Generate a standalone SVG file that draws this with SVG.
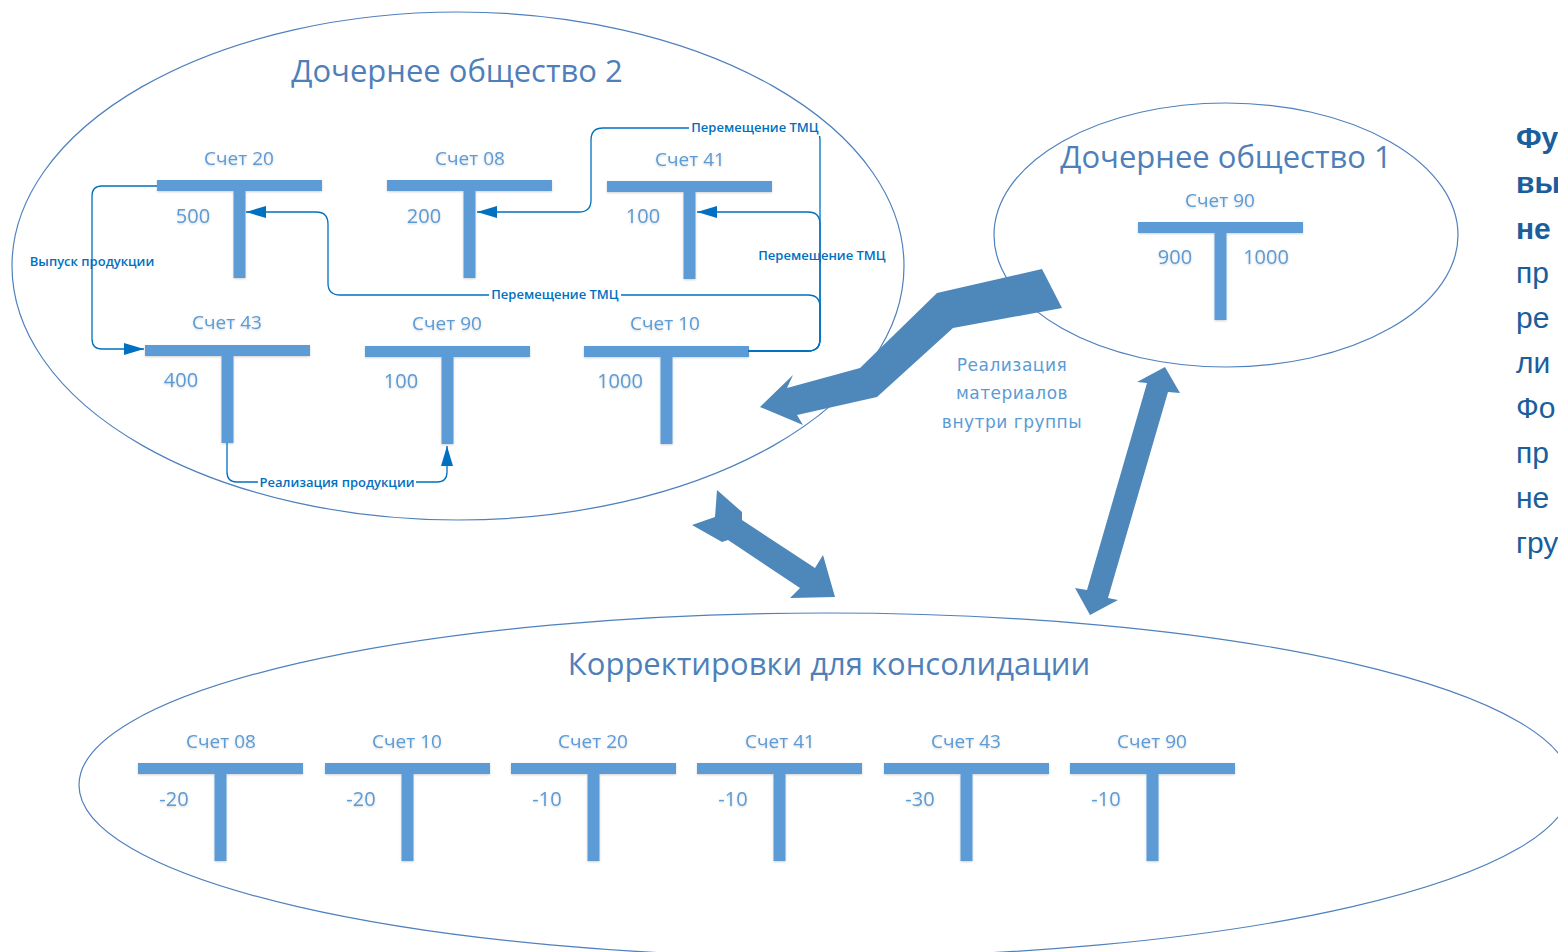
<svg xmlns="http://www.w3.org/2000/svg" xmlns:xlink="http://www.w3.org/1999/xlink" width="1558" height="952" viewBox="0 0 1558 952">
<style>
.ell{fill:none;stroke:#4f81bd;stroke-width:1.2}
.title{font-family:"Open Sans","Noto Sans",sans-serif;font-size:31px;fill:#4f7fb8;text-anchor:middle}
.acc{font-family:"Open Sans","Noto Sans",sans-serif;font-size:19px;fill:#5b9bd5;text-anchor:middle}
.val{font-family:"Open Sans","Noto Sans",sans-serif;font-size:20px;fill:#5b9bd5;text-anchor:middle}
.tfill{fill:#5b9bd5}
.con{fill:none;stroke:#0070c0;stroke-width:1.3}
.cl{font-family:"Open Sans","Noto Sans",sans-serif;font-size:13px;font-weight:600;fill:#0070c0;text-anchor:middle}
.bg{fill:#ffffff}
.big{fill:#4e87ba}
.mid{font-family:"DejaVu Sans","Open Sans",sans-serif;font-size:17px;fill:#5b9bd5;text-anchor:middle;letter-spacing:0.5px}
.side{font-family:"Liberation Sans",Arial,sans-serif;font-size:30px;fill:#1b5e9c}
.sb{font-weight:bold}
</style>
<defs>
<filter id="sh" x="-10%" y="-10%" width="120%" height="130%">
<feDropShadow dx="0" dy="1" stdDeviation="1.2" flood-color="#000" flood-opacity="0.18"/>
</filter>
<path id="T" class="tfill" d="M0,0 H165 V11 H88.5 V98 H76.5 V11 H0 Z"/>
<marker id="ah" viewBox="0 0 20 12" refX="20" refY="6" markerWidth="20" markerHeight="12" markerUnits="userSpaceOnUse" orient="auto">
<path d="M0,0 L20,6 L0,12 Z" fill="#0070c0"/>
</marker>
</defs>
<rect width="1558" height="952" fill="#ffffff"/>

<g id="subsidiary2">
<ellipse class="ell" cx="458" cy="266" rx="446" ry="254"/>
<text class="title" x="457" y="82">Дочернее общество 2</text>
</g>
<g id="subsidiary1">
<ellipse class="ell" cx="1226" cy="235" rx="232" ry="132"/>
<text class="title" x="1226" y="168">Дочернее общество 1</text>
</g>
<g id="consolidation">
<ellipse class="ell" cx="825" cy="785" rx="746" ry="172"/>
<text class="title" x="829" y="675">Корректировки для консолидации</text>
</g>

<g id="s2-acc20" filter="url(#sh)"><use xlink:href="#T" x="157" y="180"/><text class="acc" x="239" y="165">Счет 20</text><text class="val" x="193" y="223">500</text></g>
<g id="s2-acc08" filter="url(#sh)"><use xlink:href="#T" x="387" y="180"/><text class="acc" x="470" y="165">Счет 08</text><text class="val" x="424" y="223">200</text></g>
<g id="s2-acc41" filter="url(#sh)"><use xlink:href="#T" x="607" y="181"/><text class="acc" x="690" y="166">Счет 41</text><text class="val" x="643" y="223">100</text></g>
<g id="s2-acc43" filter="url(#sh)"><use xlink:href="#T" x="145" y="345"/><text class="acc" x="227" y="329">Счет 43</text><text class="val" x="181" y="387">400</text></g>
<g id="s2-acc90" filter="url(#sh)"><use xlink:href="#T" x="365" y="346"/><text class="acc" x="447" y="330">Счет 90</text><text class="val" x="401" y="388">100</text></g>
<g id="s2-acc10" filter="url(#sh)"><use xlink:href="#T" x="584" y="346"/><text class="acc" x="665" y="330">Счет 10</text><text class="val" x="620" y="388">1000</text></g>

<g id="s1-acc90" filter="url(#sh)"><use xlink:href="#T" x="1138" y="222"/><text class="acc" x="1220" y="207">Счет 90</text><text class="val" x="1175" y="264">900</text><text class="val" x="1266" y="264">1000</text></g>

<g id="c-acc08" filter="url(#sh)"><use xlink:href="#T" x="138" y="763"/><text class="acc" x="221" y="748">Счет 08</text><text class="val" x="174" y="806">-20</text></g>
<g id="c-acc10" filter="url(#sh)"><use xlink:href="#T" x="325" y="763"/><text class="acc" x="407" y="748">Счет 10</text><text class="val" x="361" y="806">-20</text></g>
<g id="c-acc20" filter="url(#sh)"><use xlink:href="#T" x="511" y="763"/><text class="acc" x="593" y="748">Счет 20</text><text class="val" x="547" y="806">-10</text></g>
<g id="c-acc41" filter="url(#sh)"><use xlink:href="#T" x="697" y="763"/><text class="acc" x="780" y="748">Счет 41</text><text class="val" x="733" y="806">-10</text></g>
<g id="c-acc43" filter="url(#sh)"><use xlink:href="#T" x="884" y="763"/><text class="acc" x="966" y="748">Счет 43</text><text class="val" x="920" y="806">-30</text></g>
<g id="c-acc90" filter="url(#sh)"><use xlink:href="#T" x="1070" y="763"/><text class="acc" x="1152" y="748">Счет 90</text><text class="val" x="1106" y="806">-10</text></g>

<g id="connectors">
<path class="con" marker-end="url(#ah)" d="M157,186 H102 Q92,186 92,196 V339 Q92,349 102,349 H144"/>
<path class="con" marker-end="url(#ah)" d="M227,443 V472 Q227,482 237,482 H437 Q447,482 447,472 V446"/>
<path class="con" marker-end="url(#ah)" d="M748,351 H808 Q820,351 820,339 V307 Q820,295 808,295 H340 Q328,295 328,283 V224 Q328,212 316,212 H246"/>
<path class="con" marker-end="url(#ah)" d="M748,351 H808 Q820,351 820,339 V224 Q820,212 808,212 H697"/>
<path class="con" marker-end="url(#ah)" d="M748,351 H808 Q820,351 820,339 V140 Q820,128 808,128 H603 Q591,128 591,140 V200 Q591,212 579,212 H477"/>
<text class="cl" x="92" y="266">Выпуск продукции</text>
<rect class="bg" x="258" y="474" width="158" height="16"/>
<text class="cl" x="337" y="487">Реализация продукции</text>
<rect class="bg" x="689" y="120" width="133" height="16"/>
<text class="cl" x="755" y="132">Перемещение ТМЦ</text>
<rect class="bg" x="489" y="287" width="132" height="16"/>
<text class="cl" x="555" y="299">Перемещение ТМЦ</text>
<text class="cl" x="822" y="260">Перемещение ТМЦ</text>
</g>

<g id="flow-arrows">
<polygon class="big" points="1042,269 1062,308 953,328 877,397 797,415 803,425 760,407 793,375 787,388 860,368 937,293"/>
<polygon class="big" points="717,490 742,512 742,520 815,568 823,555 835,597 790,598 800,588 728,540 722,542 692,525 715,517"/>
<polygon class="big" points="1165,367 1180,393 1168,392 1108,598 1118,600 1090,615 1075,588 1087,590 1147,383 1137,382"/>
</g>
<g id="flow-label">
<text class="mid" x="1012" y="371">Реализация</text>
<text class="mid" x="1012" y="399">материалов</text>
<text class="mid" x="1012" y="428">внутри группы</text>
</g>

<g id="side-text">
<text class="side sb" x="1516" y="148">Фу</text>
<text class="side sb" x="1516" y="193">вы</text>
<text class="side sb" x="1516" y="239">не</text>
<text class="side" x="1516" y="283">пр</text>
<text class="side" x="1516" y="328">ре</text>
<text class="side" x="1516" y="373">ли</text>
<text class="side" x="1516" y="418">Фо</text>
<text class="side" x="1516" y="463">пр</text>
<text class="side" x="1516" y="508">не</text>
<text class="side" x="1516" y="553">гру</text>
</g>
</svg>
